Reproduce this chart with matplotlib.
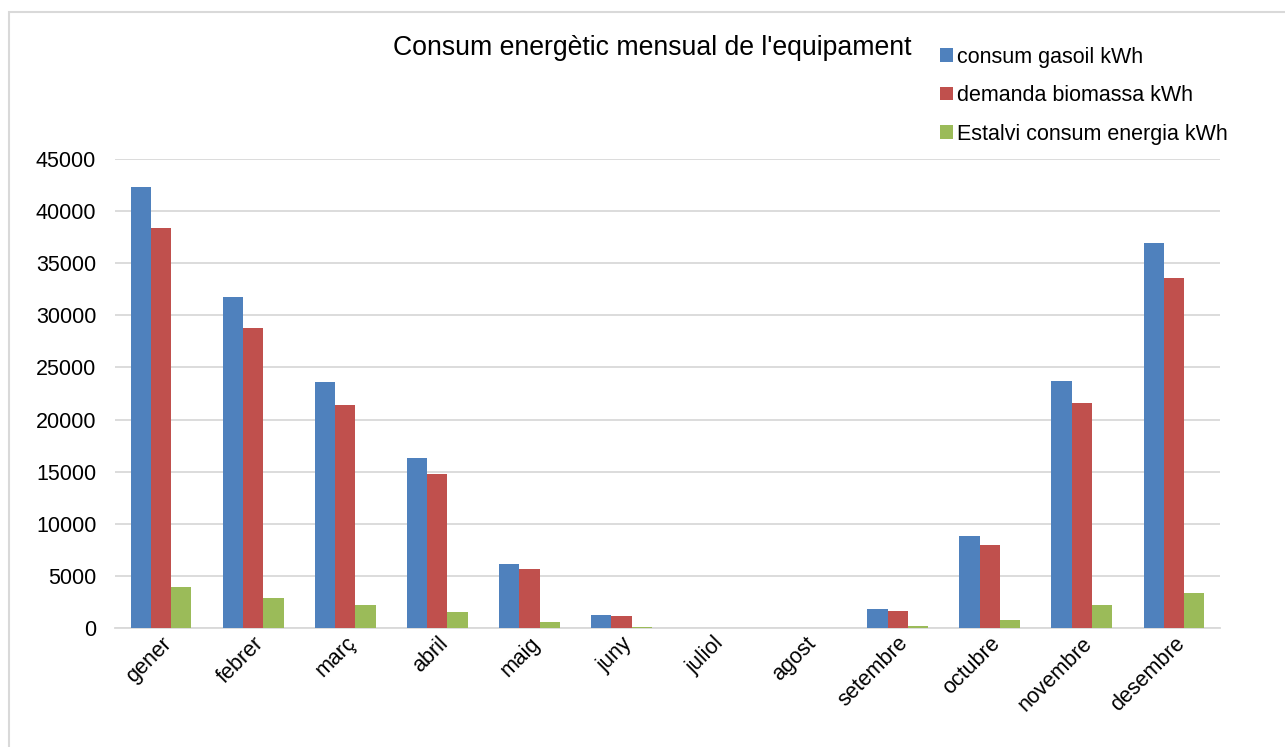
import numpy as np
import matplotlib
matplotlib.use("Agg")
import matplotlib.pyplot as plt
from matplotlib.patches import Rectangle

plt.rcParams['font.family'] = ['Liberation Sans', 'DejaVu Sans']

months = ['gener', 'febrer', 'març', 'abril', 'maig', 'juny', 'juliol',
          'agost', 'setembre', 'octubre', 'novembre', 'desembre']
gasoil = [42300, 31770, 23610, 16300, 6140, 1250, 0, 0, 1820, 8830, 23700, 36950]
biomassa = [38400, 28790, 21400, 14780, 5660, 1150, 0, 0, 1630, 7970, 21600, 33590]
estalvi = [3930, 2880, 2210, 1535, 576, 100, 0, 0, 150, 770, 2200, 3360]

series = [
    ('consum gasoil kWh', gasoil, '#4f81bd'),
    ('demanda biomassa kWh', biomassa, '#c0504d'),
    ('Estalvi consum energia kWh', estalvi, '#9bbb59'),
]

fig = plt.figure(figsize=(12.85, 7.47), dpi=100)
ax = fig.add_axes([115 / 1285, 1 - 628 / 747, (1220 - 115) / 1285, (628 - 159) / 747])

x = np.arange(len(months))
w = 0.22
for i, (label, vals, color) in enumerate(series):
    ax.bar(x + (i - 1) * w, vals, w, color=color, label=label, zorder=3)

ax.set_xlim(-0.5, len(months) - 0.5)
ax.set_ylim(0, 45000)
ax.set_yticks(np.arange(0, 45001, 5000))
ax.yaxis.grid(True, color='#d9d9d9', linewidth=1.3, zorder=0)
for s in ['top', 'right', 'left']:
    ax.spines[s].set_visible(False)
ax.spines['bottom'].set_color('#d9d9d9')
ax.spines['bottom'].set_linewidth(1.3)
ax.tick_params(axis='both', length=0, labelsize=15.5, colors='#000000')
ax.tick_params(axis='y', pad=13.5)
ax.set_xticks(x)
ax.set_xticklabels(months, rotation=45, ha='right', rotation_mode='anchor')

fig.text(652 / 1285, 1 - 48 / 747, "Consum energètic mensual de l'equipament",
         ha='center', va='center', fontsize=19.2)

fig.legend(loc='upper left', bbox_to_anchor=(929 / 1285, 1 - 36 / 747),
           frameon=False, fontsize=15.5, handlelength=0.6, handleheight=0.6,
           handletextpad=0.2, labelspacing=0.81, borderpad=0)

fig.patches.append(Rectangle((9 / 1285, -0.1), 1.2, 1.1 - 12 / 747,
                             transform=fig.transFigure, fill=False,
                             edgecolor='#d9d9d9', linewidth=1.5))

fig.savefig('out.png', dpi=100)
